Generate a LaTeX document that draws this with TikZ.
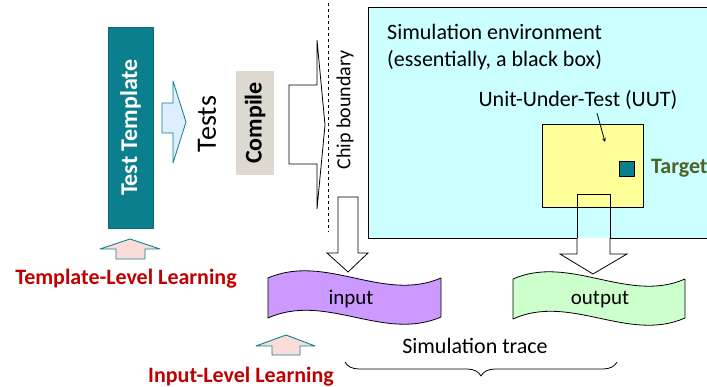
\documentclass[tikz,border=0pt]{standalone}
\usepackage{fontspec}
\setmainfont{Carlito}
\usetikzlibrary{decorations.pathreplacing}
\definecolor{tmplteal}{HTML}{0B7F8E}
\definecolor{tipblue}{HTML}{DDEEFF}
\definecolor{compgray}{HTML}{DDD9D0}
\definecolor{simcyan}{HTML}{CCFFFF}
\definecolor{uutyellow}{HTML}{FFFF99}
\definecolor{inpurple}{HTML}{CC99FF}
\definecolor{outgreen}{HTML}{CCFFCC}
\definecolor{learnpink}{HTML}{FADCD8}
\definecolor{learnred}{HTML}{C00000}
\definecolor{targetgreen}{HTML}{4F6228}
\newcommand{\fs}[1]{\fontsize{#1}{#1}\selectfont}
\tikzset{
  vbox/.style={rotate=90, inner sep=0pt, font=\bfseries\fs{24}},
  hollow/.style={draw=black, fill=white, line width=0.8pt, line join=miter},
  learnarrow/.style={draw=tmplteal, fill=learnpink, line width=0.9pt},
  learntext/.style={text=learnred, font=\bfseries\fs{22}},
  wavebox/.style={draw=black, line width=0.8pt},
}
\begin{document}
\begin{tikzpicture}[x=1pt, y=-1pt, line join=round, >=stealth]
\useasboundingbox (0,0) rectangle (707,387);
% template and tests
\node[vbox, fill=tmplteal, draw=tmplteal!80!black, text=white,
  minimum width=201pt, minimum height=45pt] (tmpl) at (130.5,127.5) {Test Template};
\draw[draw=tmplteal, fill=tipblue, line width=0.8pt]
  (162,103) -- (173,103) -- (173,81) -- (186,122) -- (173,163) -- (173,133) -- (162,133) -- cycle;
\node[rotate=90, font=\fs{28}] (tests) at (207,124) {Tests};
\node[vbox, fill=compgray, minimum width=104pt, minimum height=38pt] (compile) at (255,123) {Compile};
% into the chip
\draw[hollow] (289,85) -- (317,85) -- (317,40) -- (325,125) -- (317,209) -- (317,164) -- (289,164) -- cycle;
\draw[dashed, line width=0.7pt] (328,3) -- (328,232);
\node[rotate=90, font=\fs{20}] (chip) at (345,110) {Chip boundary};
% simulation environment
\draw[fill=simcyan, line width=0.9pt] (368,7) rectangle (712,238);
\node[anchor=north west, align=left, font=\fs{22}, inner sep=0pt] (simenv) at (387,24)
  {Simulation environment\\[5pt](essentially, a black box)};
\node[font=\fs{22}] (uutlabel) at (578,100) {Unit-Under-Test (UUT)};
\node[draw, fill=uutyellow, line width=0.8pt, minimum width=101pt, minimum height=83pt,
  inner sep=0pt] (uut) at (592.5,165.5) {};
\node[draw, fill=tmplteal, line width=0.8pt, minimum size=15pt, inner sep=0pt] (target) at (626.5,169) {};
\node[anchor=west, text=targetgreen, font=\bfseries\fs{22}, inner sep=0pt] (tgtlabel) at (651,168) {Target};
\coordinate (uutpt) at (605,142);
\draw[->, line width=0.8pt] ([xshift=19pt]uutlabel.south) -- (uutpt);
% input and output
\draw[hollow] (338,197) -- (358,197) -- (358,253) -- (368,253) -- (348,272) -- (327,253) -- (338,253) -- cycle;
\draw[hollow, fill=none] (577,238) -- (577,194) -- (610,194) -- (610,238);
\draw[hollow] (577,238) -- (577,254) -- (560,254) -- (593,274) -- (627,254) -- (610,254) -- (610,238);
\draw[wavebox, fill=inpurple] (268,278) .. controls (326,253) and (383,303) .. (441,278)
  -- (441,317) .. controls (383,342) and (326,292) .. (268,318) -- cycle;
\node[font=\fs{21}] (input) at (351,299) {input};
\draw[wavebox, fill=outgreen] (513,279) .. controls (570,254) and (628,304) .. (685,279)
  -- (685,318) .. controls (628,343) and (570,293) .. (513,319) -- cycle;
\node[font=\fs{21}] (output) at (600,300) {output};
% learning
\draw[learnarrow] (116,259) -- (116,249) -- (100,249) -- (130,239) -- (160,249) -- (145,249) -- (145,259) -- cycle;
\node[learntext] (tlearn) at (126,279) {Template-Level Learning};
\draw[learnarrow] (272,355) -- (272,346) -- (256,346) -- (286,335) -- (315,346) -- (300,346) -- (300,355) -- cycle;
\node[learntext] (ilearn) at (241,377) {Input-Level Learning};
% trace
\node[font=\fs{22}] (trace) at (475,346) {Simulation trace};
\coordinate (brl) at (345,362);
\coordinate (brr) at (617,362);
\draw[decorate, decoration={brace, mirror, amplitude=14pt}, line width=0.8pt] (brl) -- (brr);
\end{tikzpicture}
\end{document}
